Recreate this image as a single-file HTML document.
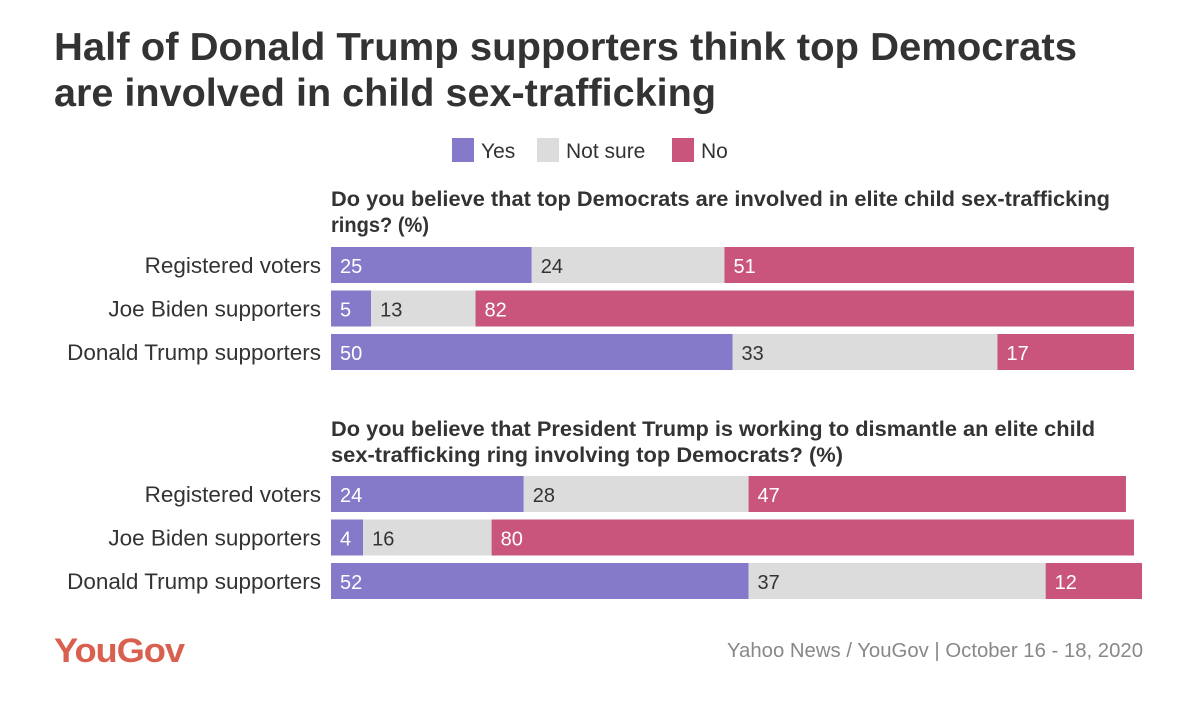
<!DOCTYPE html>
<html><head><meta charset="utf-8"><style>
body{margin:0;background:#fff;width:1200px;height:721px;overflow:hidden}
svg{display:block;font-family:"Liberation Sans",sans-serif}
</style></head><body>
<svg id="chart" width="1200" height="721">
<text x="54" y="60" font-size="39" font-weight="bold" fill="#333" textLength="1023" lengthAdjust="spacingAndGlyphs">Half of Donald Trump supporters think top Democrats</text>
<text x="54" y="106" font-size="39" font-weight="bold" fill="#333" textLength="662" lengthAdjust="spacingAndGlyphs">are involved in child sex-trafficking</text>
<g>
<rect x="452" y="138" width="22" height="24" fill="#8579c9"/>
<text x="481" y="158" font-size="21" fill="#333">Yes</text>
<rect x="537" y="138" width="22" height="24" fill="#dcdcdc"/>
<text x="566" y="158" font-size="21" fill="#333">Not sure</text>
<rect x="672" y="138" width="22" height="24" fill="#c9557c"/>
<text x="701" y="158" font-size="21" fill="#333">No</text>
</g>
<text x="331" y="206" font-size="21" font-weight="bold" fill="#333" textLength="779" lengthAdjust="spacingAndGlyphs">Do you believe that top Democrats are involved in elite child sex-trafficking</text>
<text x="331" y="232" font-size="21" font-weight="bold" fill="#333" textLength="98" lengthAdjust="spacingAndGlyphs">rings? (%)</text>
<text x="331" y="436" font-size="21" font-weight="bold" fill="#333" textLength="764" lengthAdjust="spacingAndGlyphs">Do you believe that President Trump is working to dismantle an elite child</text>
<text x="331" y="462" font-size="21" font-weight="bold" fill="#333" textLength="512" lengthAdjust="spacingAndGlyphs">sex-trafficking ring involving top Democrats? (%)</text>
<g id="bars"></g>
<text x="54" y="662" font-size="34" font-weight="bold" fill="#d9604f" letter-spacing="-1" textLength="130" lengthAdjust="spacingAndGlyphs">YouGov</text>
<text x="1143" y="657" font-size="20" fill="#888" text-anchor="end" textLength="416" lengthAdjust="spacingAndGlyphs">Yahoo News / YouGov | October 16 - 18, 2020</text>
</svg>
<script>
const categories = ["Registered voters","Joe Biden supporters","Donald Trump supporters"];
const q1Yes = [25,5,50];
const q1NotSure = [24,13,33];
const q1No = [51,82,17];
const q2Yes = [24,4,52];
const q2NotSure = [28,16,37];
const q2No = [47,80,12];
const NS="http://www.w3.org/2000/svg";
const g=document.getElementById('bars');
const x0=331, pxPer=8.03;
const xs=v=>v*pxPer;
const colors=["#8579c9","#dcdcdc","#c9557c"];
const txt=["#fff","#333","#fff"];
function group(top, series, prefix){
  categories.forEach((c,i)=>{
    const y=top+i*43.5;
    const lab=document.createElementNS(NS,'text');
    lab.setAttribute('x',321);lab.setAttribute('y',y+26);lab.setAttribute('text-anchor','end');
    lab.setAttribute('font-size','22.5');lab.setAttribute('fill','#333');lab.textContent=c;
    
    
    g.appendChild(lab);
    let x=x0;
    series.forEach((s,k)=>{
      const w=xs(s[i]);
      const r=document.createElementNS(NS,'rect');
      r.setAttribute('x',x);r.setAttribute('y',y);r.setAttribute('width',w);r.setAttribute('height',36);r.setAttribute('fill',colors[k]);
      
      
      g.appendChild(r);
      const t=document.createElementNS(NS,'text');
      t.setAttribute('x',x+9);t.setAttribute('y',y+26);t.setAttribute('font-size','20');t.setAttribute('fill',txt[k]);
      t.textContent=s[i];
      
      
      g.appendChild(t);
      x+=w;
    });
  });
}
group(247,[q1Yes,q1NotSure,q1No],'q1');
group(476,[q2Yes,q2NotSure,q2No],'q2');
</script>
</body></html>
